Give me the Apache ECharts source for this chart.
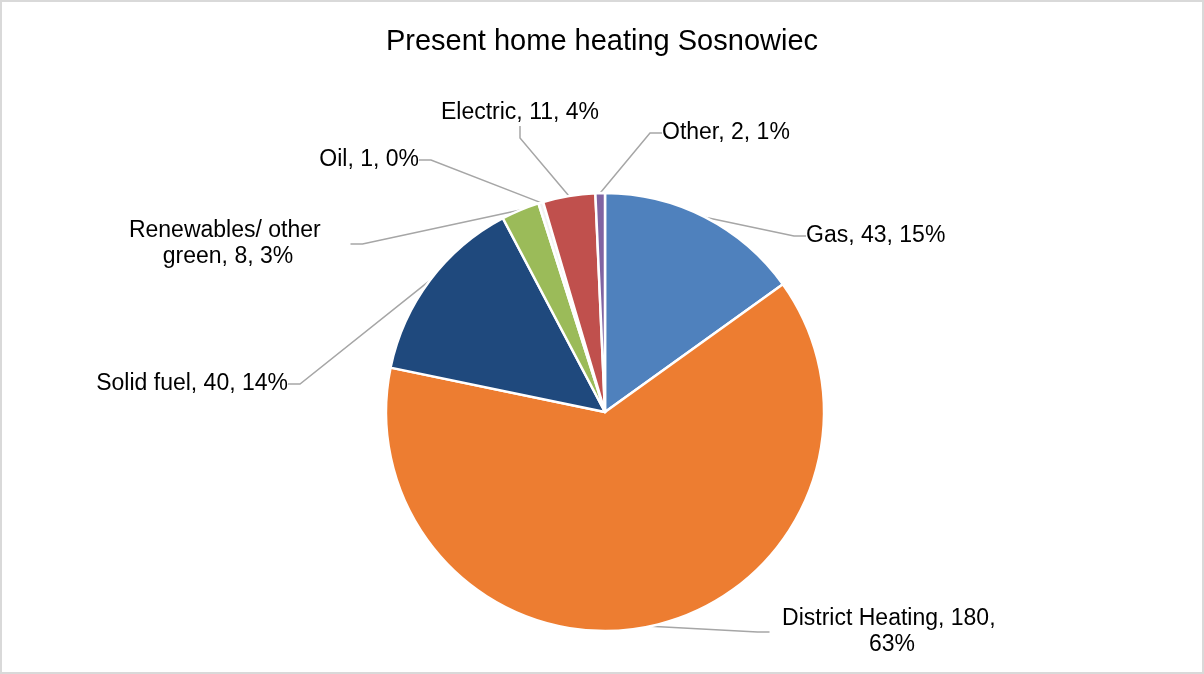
<!DOCTYPE html>
<html>
<head>
<meta charset="utf-8">
<script src="https://cdn.jsdelivr.net/npm/echarts@6/dist/echarts.min.js"></script>
<style>
  html, body { margin: 0; padding: 0; background: #fff; }
  #pie { width: 1204px; height: 674px; box-sizing: border-box; border: 2px solid #d9d9d9; }
</style>
</head>
<body>
<div id="pie"></div>
<script>
// 各类供暖方式
const categories = ['Gas', 'District Heating', 'Solid fuel', 'Renewables/ other green', 'Oil', 'Electric', 'Other']
const values = [43, 180, 40, 8, 1, 11, 2]
const colors = ['#4f81bd', '#ed7d31', '#1f497d', '#9bbb59', '#f2f2f2', '#c0504d', '#8064a2']

// 标签位置 (x, y, align)
const labelPos = [
    [804, 234, 'left'],
    [890, 630, 'center'],
    [286, 382, 'right'],
    [226, 242, 'center'],
    [417, 158, 'right'],
    [518, 111, 'center'],
    [660, 131, 'left']
]

const pieChart = echarts.init(document.getElementById('pie'))

const option = {
    animation: false,
    title: {
        text: 'Present home heating Sosnowiec',
        left: 'center',
        top: 20,
        textStyle: {
            fontFamily: 'Liberation Sans',
            fontSize: 29,
            fontWeight: 'normal',
            color: '#000'
        }
    },
    series: [{
        type: 'pie',
        center: [603, 410],
        radius: 219,
        startAngle: 90,
        clockwise: true,
        percentPrecision: 0,
        data: categories.map((name, i) => ({
            name,
            value: values[i],
            itemStyle: { color: colors[i] }
        })),
        itemStyle: {
            borderColor: '#fff',
            borderWidth: 2.5
        },
        label: {
            show: true,
            formatter: '{b}, {c}, {d}%',
            fontFamily: 'Liberation Sans',
            fontSize: 23,
            color: '#000',
            width: 245,
            overflow: 'break',
            lineHeight: 26
        },
        labelLine: {
            show: true,
            length: 8,
            length2: 12,
            lineStyle: {
                color: '#a6a6a6',
                width: 1.5
            }
        },
        labelLayout: function (params) {
            const p = labelPos[params.dataIndex]
            return {
                x: p[0],
                y: p[1],
                align: p[2],
                verticalAlign: 'middle'
            }
        },
        emphasis: { disabled: true }
    }]
}
pieChart.setOption(option)
</script>
</body>
</html>
